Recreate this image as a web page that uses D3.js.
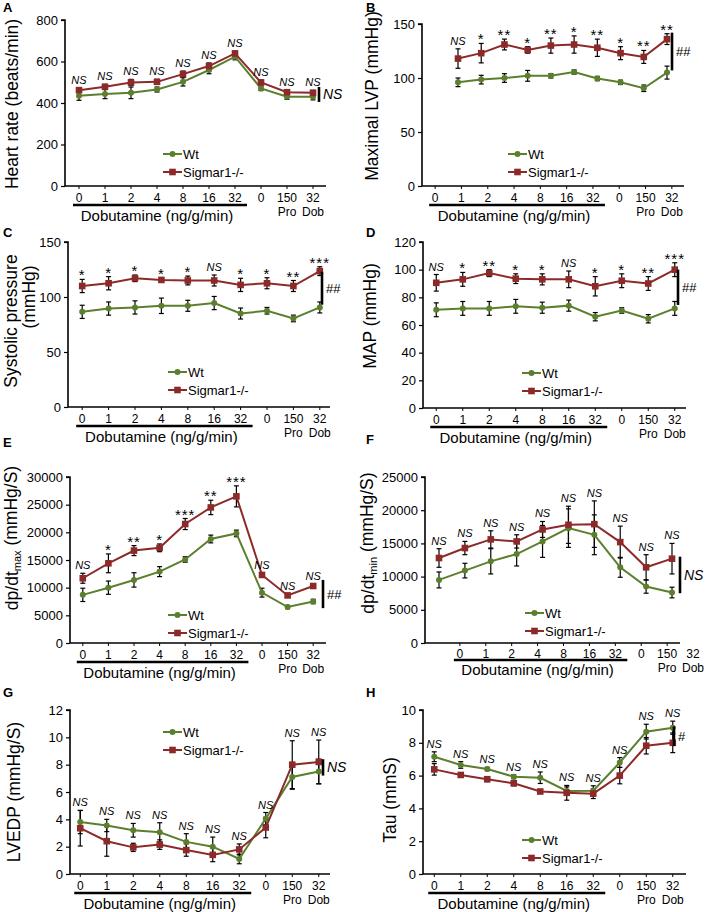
<!DOCTYPE html>
<html><head><meta charset="utf-8">
<script src="https://cdn.jsdelivr.net/npm/d3@7"></script>
<style>
html,body{margin:0;padding:0;background:#fff;}
text{font-family:"Liberation Sans",Arial,sans-serif;fill:#000;}
</style></head>
<body><svg id="chart" width="709" height="912"></svg>
<script>
// ---------- data ----------
const categories = ["0","1","2","4","8","16","32","0","150","32"];
const subLabels  = ["","","","","","","","","Pro","Dob"];
const seriesNames = ["Wt","Sigmar1-/-"];

const hrWt = [435,443,449,465,502,559,623,470,430,430];
const hrWtErr = [22,22,28,12,20,18,15,10,12,15];
const hrKo = [462,478,499,502,539,578,639,499,452,449];
const hrKoErr = [10,12,15,12,15,15,10,12,10,12];
const hrSig = ["NS","NS","NS","NS","NS","NS","NS","NS","NS","NS"];

const lvpWt = [96,98.5,100,102,102,105.5,99.5,96,90.5,105];
const lvpWtErr = [4,4,4,5,2,2,2,2,3,6];
const lvpKo = [118,123,131,126,130,131,128,123,119.5,136];
const lvpKoErr = [9,9,5,3,7,8,8,6,6,5];
const lvpSig = ["NS","*","**","*","**","*","**","*","**","**"];

const spWt = [86.5,89.5,90.5,92,92,94.5,85,87.5,80.5,90.5];
const spWtErr = [6,6,6,7,5,6,5,3,3,5];
const spKo = [110,112.5,117,115.5,115,115,111,112.5,110,123.5];
const spKoErr = [6,6,3,2,4,5,6,5,5,4];
const spSig = ["*","*","*","*","*","NS","*","*","**","***"];

const mapWt = [71,72,72,73.5,72.5,74,66,70.5,64.5,72];
const mapWtErr = [5,5,5,5,4,4,3,2,3,5];
const mapKo = [90.5,93,97.5,93.5,93,93,88,92,90,100];
const mapKoErr = [6,5,2.5,3.5,4,6,7,5,5,5];
const mapSig = ["NS","*","**","*","*","NS","*","*","**","***"];

const dmaxWt = [8700,10000,11400,12900,15100,18800,19800,9100,6500,7500];
const dmaxWtErr = [1200,1200,1300,900,500,700,600,800,300,400];
const dmaxKo = [11700,14400,16700,17200,21500,24500,26500,12300,8600,10300];
const dmaxKoErr = [900,1700,900,700,1000,1300,1900,400,300,400];
const dmaxSig = ["NS","*","**","*","***","**","***","NS","NS","NS"];

const dminWt = [9500,10900,12300,13400,15300,17300,16300,11400,8500,7600];
const dminWtErr = [1200,1100,1900,1800,2400,2900,3000,1500,1000,800];
const dminKo = [12800,14300,15600,15300,17100,17800,17900,15200,11400,12700];
const dminKoErr = [1400,1000,1300,1000,1200,2800,3500,2400,1900,2300];
const dminSig = ["NS","NS","NS","NS","NS","NS","NS","NS","NS","NS"];

const lvWt = [3.8,3.55,3.2,3.05,2.35,2.0,1.1,4.05,7.1,7.5];
const lvWtErr = [0.85,0.45,0.5,0.7,0.6,0.7,0.35,0.45,0.9,0.9];
const lvKo = [3.35,2.4,1.95,2.15,1.75,1.4,1.8,3.4,8.0,8.2];
const lvKoErr = [1.3,1.1,0.3,0.35,0.45,0.5,0.4,0.75,1.75,1.6];
const lvSig = ["NS","NS","NS","NS","NS","NS","NS","NS","NS","NS"];

const tauWt = [7.15,6.65,6.4,5.93,5.87,5.06,5.08,6.8,8.68,8.92];
const tauWtErr = [0.3,0.2,0.1,0.12,0.35,0.25,0.3,0.3,0.45,0.4];
const tauKo = [6.38,6.04,5.78,5.53,5.03,4.95,4.9,6.0,7.82,8.0];
const tauKoErr = [0.35,0.1,0.15,0.15,0.1,0.45,0.3,0.5,0.5,0.6];
const tauSig = ["NS","NS","NS","NS","NS","NS","NS","NS","NS","NS"];

// group-difference brackets (value range, label)
const brackets = {
  A:[405,477,"NS"], B:[107,142,"##"], C:[93,123,"##"], D:[74.5,100,"##"],
  E:[6300,11400,"##"], F:[7500,13000,"NS"], G:[7.2,8.4,"NS"], H:[7.8,9.0,"#"]
};

// ---------- layout ----------
const GREEN = "#5b7f2c", RED = "#8c2a2a";
const panels = [
 {id:"A", letter:[3,12], axisX:65, xr:[66,326], slots:10, lblOff:0, xEnd:326,
  yd:[0,800], step:200, yr:[186,20], wt:hrWt, wtE:hrWtErr, ko:hrKo, koE:hrKoErr, sig:hrSig,
  title:[{t:"Heart rate (beats/min)",x:12,y:104}], legend:[163,154], bx:319},
 {id:"B", letter:[366,12], axisX:422, xr:[422,685], slots:10, lblOff:0, xEnd:684, dataX:[458,667],
  yd:[0,150], step:50, yr:[186,24], wt:lvpWt, wtE:lvpWtErr, ko:lvpKo, koE:lvpKoErr, sig:lvpSig,
  title:[{t:"Maximal LVP (mmHg)",x:372,y:96}], legend:[508,154], bx:672},
 {id:"C", letter:[3,237], axisX:68, xr:[69,333], slots:10, lblOff:0, xEnd:330,
  yd:[0,150], step:50, yr:[407,242], wt:spWt, wtE:spWtErr, ko:spKo, koE:spKoErr, sig:spSig,
  title:[{t:"Systolic pressure",x:11,y:321},{t:"(mmHg)",x:29,y:297}], legend:[168,372], bx:322},
 {id:"D", letter:[366,237], axisX:423, xr:[423,688], slots:10, lblOff:0, xEnd:686,
  yd:[0,120], step:20, yr:[408,242], wt:mapWt, wtE:mapWtErr, ko:mapKo, koE:mapKoErr, sig:mapSig,
  title:[{t:"MAP (mmHg)",x:370,y:316}], legend:[522,373], bx:678},
 {id:"E", letter:[3,447], axisX:70, xr:[70,326], slots:10, lblOff:0, xEnd:326,
  yd:[0,30000], step:5000, yr:[643,477], wt:dmaxWt, wtE:dmaxWtErr, ko:dmaxKo, koE:dmaxKoErr, sig:dmaxSig,
  title:[{t:"dp/dt",sub:"max",rest:" (mmHg/S)",x:12,y:538}], legend:[168,615], bx:323},
 {id:"F", letter:[366,444], axisX:425, xr:[421,706], slots:11, lblOff:1, xEnd:680, dataX:[439,672],
  yd:[0,25000], step:5000, yr:[643,477], wt:dminWt, wtE:dminWtErr, ko:dminKo, koE:dminKoErr, sig:dminSig,
  title:[{t:"dp/dt",sub:"min",rest:" (mmHg/S)",x:368,y:543}], legend:[525,613], bx:680, compact:true},
 {id:"G", letter:[3,697], axisX:70, xr:[67,332], slots:10, lblOff:0, xEnd:330,
  yd:[0,12], step:2, yr:[874,710], wt:lvWt, wtE:lvWtErr, ko:lvKo, koE:lvKoErr, sig:lvSig,
  title:[{t:"LVEDP (mmHg/S)",x:14,y:792}], legend:[163,732], bx:323},
 {id:"H", letter:[366,697], axisX:423, xr:[421,686], slots:10, lblOff:0, xEnd:686,
  yd:[0,10], step:2, yr:[874,710], wt:tauWt, wtE:tauWtErr, ko:tauKo, koE:tauKoErr, sig:tauSig,
  title:[{t:"Tau (mmS)",x:390,y:800}], legend:[522,840], bx:674}
];

const svg = d3.select("#chart");

panels.forEach(p => {
  const g = svg.append("g");
  const band = d3.scaleBand().domain(d3.range(p.slots)).range(p.xr);
  const cx = i => band(i) + band.bandwidth()/2;
  const lx = i => cx(i + p.lblOff);
  const dx = p.dataX ? d3.scaleLinear().domain([0,9]).range(p.dataX) : (i => cx(i));
  const y = d3.scaleLinear().domain(p.yd).range(p.yr);

  // panel letter
  g.append("text").attr("x",p.letter[0]).attr("y",p.letter[1])
    .attr("font-size",13).attr("font-weight","bold").text(p.id);

  // y axis
  const yAxis = d3.axisLeft(y).tickValues(d3.range(p.yd[0], p.yd[1]+1e-9, p.step))
    .tickSize(4).tickPadding(3).tickFormat(d3.format("d"));
  const ya = g.append("g").attr("transform",`translate(${p.axisX},0)`).call(yAxis);
  ya.select(".domain").attr("stroke","#000").attr("stroke-width",1.6).attr("d",`M-4,${p.yr[1]}H0V${p.yr[0]}`);
  ya.selectAll(".tick line").attr("stroke","#000").attr("stroke-width",1.2);
  ya.selectAll(".tick text").attr("font-size",13).attr("font-family","Liberation Sans, Arial, sans-serif").attr("fill","#000");

  // x axis line
  g.append("line").attr("x1",p.axisX).attr("x2",p.xEnd).attr("y1",p.yr[0]).attr("y2",p.yr[0])
    .attr("stroke","#000").attr("stroke-width",1.6);
  // x ticks (only within the axis line)
  g.selectAll(null).data(d3.range(10).filter(i => lx(i) < p.xEnd)).enter().append("line")
    .attr("x1",i=>lx(i)).attr("x2",i=>lx(i)).attr("y1",p.yr[0]).attr("y2",p.yr[0]+3)
    .attr("stroke","#000").attr("stroke-width",1);
  const off = p.compact ? [11,17,27,24.5] : [12,19,29.5,25.5];
  g.selectAll(null).data(categories).enter().append("text")
    .attr("x",(d,i)=>lx(i)).attr("y",p.yr[0]+off[0]).attr("dy","0.35em")
    .attr("text-anchor","middle").attr("font-size",12).text(d=>d);
  g.selectAll(null).data(subLabels).enter().append("text")
    .attr("x",(d,i)=>lx(i)).attr("y",p.yr[0]+off[3]).attr("dy","0.35em")
    .attr("text-anchor","middle").attr("font-size",12).text(d=>d);
  const u0 = lx(0)-6, u1 = lx(6)+12;
  g.append("line").attr("x1",u0).attr("x2",u1).attr("y1",p.yr[0]+off[1]).attr("y2",p.yr[0]+off[1])
    .attr("stroke","#000").attr("stroke-width",2.4);
  g.append("text").attr("x",(u0+u1)/2-3).attr("y",p.yr[0]+off[2]).attr("dy","0.35em")
    .attr("text-anchor","middle").attr("font-size",15).text("Dobutamine (ng/g/min)");

  // y title
  p.title.forEach(tt => {
    const t = g.append("text").attr("transform",`translate(${tt.x},${tt.y}) rotate(-90)`)
      .attr("text-anchor","middle").attr("font-size",17.5).attr("dy","0.35em");
    if (tt.sub) {
      t.append("tspan").text(tt.t);
      t.append("tspan").attr("font-size",11).attr("dy","0.25em").text(tt.sub);
      t.append("tspan").attr("dy","-0.25em").text(tt.rest);
    } else t.text(tt.t);
  });

  // series
  const series = [
    {v:p.wt, e:p.wtE, c:GREEN, shape:"circle"},
    {v:p.ko, e:p.koE, c:RED, shape:"square"}
  ];
  series.forEach(s => {
    const eb = g.append("g");
    s.v.forEach((v,i) => {
      const x = dx(i), y1 = y(v+s.e[i]), y2 = y(v-s.e[i]);
      eb.append("line").attr("x1",x).attr("x2",x).attr("y1",y1).attr("y2",y2).attr("stroke","#000").attr("stroke-width",1.2);
      eb.append("line").attr("x1",x-2.5).attr("x2",x+2.5).attr("y1",y1).attr("y2",y1).attr("stroke","#000").attr("stroke-width",1.2);
      eb.append("line").attr("x1",x-2.5).attr("x2",x+2.5).attr("y1",y2).attr("y2",y2).attr("stroke","#000").attr("stroke-width",1.2);
    });
  });
  series.forEach(s => {
    g.append("path").datum(s.v).attr("fill","none").attr("stroke",s.c).attr("stroke-width",2)
      .attr("d", d3.line().x((d,i)=>dx(i)).y(d=>y(d)));
    if (s.shape==="circle")
      g.selectAll(null).data(s.v).enter().append("circle").attr("cx",(d,i)=>dx(i)).attr("cy",d=>y(d)).attr("r",3).attr("fill",s.c);
    else
      g.selectAll(null).data(s.v).enter().append("rect").attr("x",(d,i)=>dx(i)-3.3).attr("y",d=>y(d)-3.3)
        .attr("width",6.6).attr("height",6.6).attr("fill",s.c);
  });

  // significance labels
  p.sig.forEach((s,i) => {
    const top = Math.min(y(p.wt[i]+p.wtE[i]), y(p.ko[i]+p.koE[i]));
    const isNS = s==="NS";
    g.append("text").attr("x",dx(i)).attr("y", isNS ? top-4 : top+1)
      .attr("text-anchor","middle").attr("font-size", isNS ? 11 : 15)
      .attr("font-style", isNS ? "italic" : "normal")
      .attr("letter-spacing", isNS ? 0 : 1).text(s);
  });

  // bracket
  const b = brackets[p.id];
  g.append("line").attr("x1",p.bx).attr("x2",p.bx).attr("y1",y(b[1])).attr("y2",y(b[0]))
    .attr("stroke","#000").attr("stroke-width",2.6);
  const bl = b[2];
  g.append("text").attr("x",p.bx+4).attr("y",(y(b[0])+y(b[1]))/2).attr("dy","0.35em")
    .attr("font-size", bl==="NS" ? 14 : 13).attr("font-style", bl==="NS" ? "italic":"normal").text(bl);

  // legend
  const [lx0, ly0] = p.legend;
  seriesNames.forEach((nm,k) => {
    const yy = ly0 + k*18, c = k===0 ? GREEN : RED;
    g.append("line").attr("x1",lx0).attr("x2",lx0+19).attr("y1",yy).attr("y2",yy).attr("stroke",c).attr("stroke-width",2);
    if (k===0) g.append("circle").attr("cx",lx0+9.5).attr("cy",yy).attr("r",3).attr("fill",c);
    else g.append("rect").attr("x",lx0+6.2).attr("y",yy-3.3).attr("width",6.6).attr("height",6.6).attr("fill",c);
    g.append("text").attr("x",lx0+20).attr("y",yy).attr("dy","0.35em").attr("font-size",13).text(nm);
  });
});
</script></body></html>
